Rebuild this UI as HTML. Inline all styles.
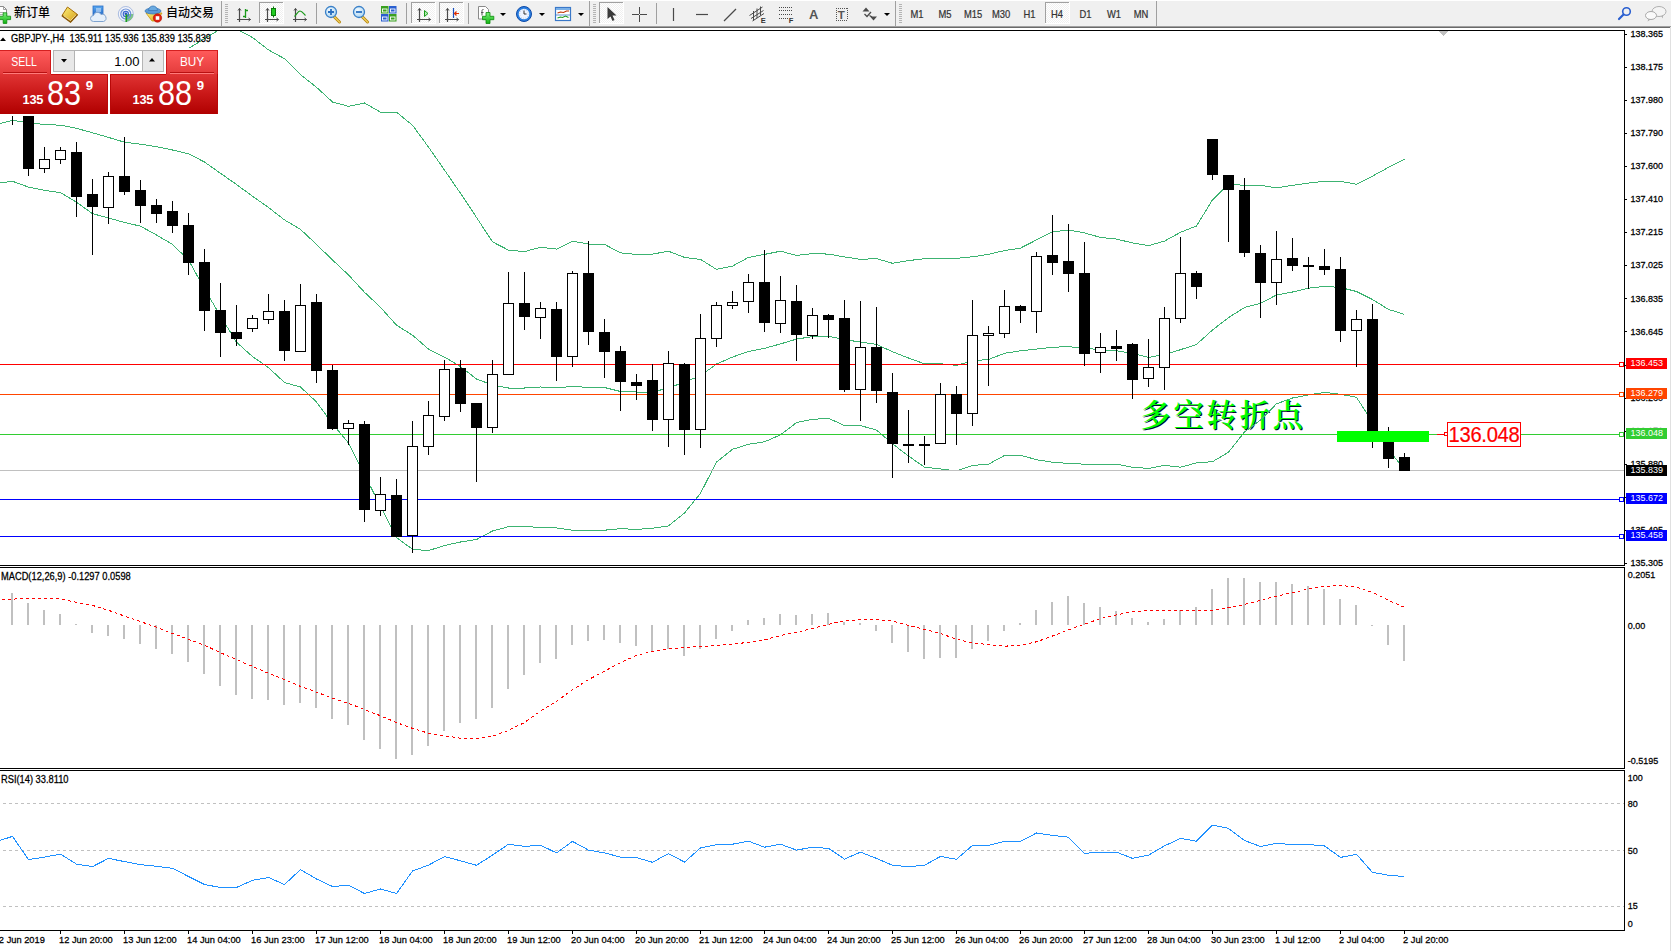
<!DOCTYPE html>
<html lang="zh"><head><meta charset="utf-8"><title>GBPJPY-,H4</title><style>
html,body{margin:0;padding:0;background:#fff;}
body{width:1671px;height:951px;overflow:hidden;position:relative;font-family:"Liberation Sans","Noto Sans CJK SC",sans-serif;color:#000;}
.t{position:absolute;white-space:nowrap;line-height:1;}
.ax{-webkit-text-stroke:0.25px #000;font-size:9px;left:1630.5px;transform-origin:0 50%;transform:scaleY(1.09);letter-spacing:0px}
.lb{position:absolute;left:1626px;width:41px;height:11px;color:#fff;font-size:9px;line-height:11px;}
.lb span{position:absolute;left:4.5px;top:0.2px;transform-origin:0 50%;transform:scaleY(1.09);}
.tm{font-size:9.3px;top:935.6px;transform-origin:0 50%;transform:scaleY(1.06);-webkit-text-stroke:0.25px #000;}
#tb{position:absolute;left:0;top:0;width:1671px;height:26px;background:#f0f0f0;border-top:1px solid #fff;box-sizing:border-box}
#tbl1{position:absolute;left:0;top:26px;width:1671px;height:1px;background:#a0a0a0;}
#tbl2{position:absolute;left:0;top:27px;width:1671px;height:1px;background:#696969;}
.tf{font-size:9.4px;color:#333;top:10.1px;transform-origin:50% 50%;transform:scaleY(1.08);-webkit-text-stroke:0.2px #333}
.cn{font-size:12px;top:7.2px;color:#000;font-weight:500}
</style></head><body>
<div id="tb"></div><div id="tbl1"></div><div id="tbl2"></div>
<svg width="1671" height="951" viewBox="0 0 1671 951" style="position:absolute;left:0;top:0" shape-rendering="crispEdges">
<defs><clipPath id="cm"><rect x="0" y="31" width="1624" height="534"/></clipPath><clipPath id="c2"><rect x="0" y="568" width="1624" height="200"/></clipPath><clipPath id="c3"><rect x="0" y="771" width="1624" height="159"/></clipPath></defs>
<g clip-path="url(#cm)">
<text x="1141.4" y="427.4" font-family="'Liberation Serif','Noto Serif CJK SC',serif" font-size="30.2" font-weight="600" letter-spacing="2.9" fill="#000830">多空转折点</text>
<text x="1140.4" y="426.4" font-family="'Liberation Serif','Noto Serif CJK SC',serif" font-size="30.2" font-weight="600" letter-spacing="2.9" fill="#00ff00">多空转折点</text>
<polyline points="-3.5,60.3 12.5,60.7 28.5,59.3 44.5,58.6 60.5,57.8 76.5,54.4 92.5,52.0 108.5,56.7 124.5,62.0 140.5,62.2 156.5,58.4 172.5,55.6 188.5,48.4 204.5,38.7 220.5,29.0 236.5,29.0 252.5,37.5 268.5,49.9 284.5,58.7 300.5,74.6 316.5,87.3 332.5,102.0 348.5,106.3 364.5,103.0 380.5,112.2 396.5,112.2 412.5,125.2 428.5,147.1 444.5,170.1 460.5,193.3 476.5,217.4 492.5,241.9 508.5,250.1 524.5,251.6 540.5,247.3 556.5,249.1 572.5,241.1 588.5,244.1 604.5,244.4 620.5,252.9 636.5,254.4 652.5,254.1 668.5,251.2 684.5,257.4 700.5,259.4 716.5,269.4 732.5,266.1 748.5,257.4 764.5,254.4 780.5,251.2 796.5,255.4 812.5,253.6 828.5,254.1 844.5,256.9 860.5,259.4 876.5,258.6 892.5,263.3 908.5,260.6 924.5,258.7 940.5,258.7 956.5,258.3 972.5,256.8 988.5,254.3 1004.5,250.6 1020.5,248.1 1036.5,239.9 1052.5,231.9 1068.5,229.9 1084.5,232.9 1100.5,237.4 1116.5,239.1 1132.5,242.9 1148.5,245.6 1164.5,241.1 1180.5,232.3 1196.5,226.0 1212.5,199.8 1228.5,184.3 1244.5,185.3 1260.5,185.3 1276.5,188.0 1292.5,185.3 1308.5,183.1 1324.5,181.3 1340.5,181.3 1356.5,184.3 1372.5,176.1 1388.5,167.4 1404.5,159.1" fill="none" stroke="#3cb371" stroke-width="1" />
<polyline points="-3.5,124.5 12.5,120.4 28.5,122.8 44.5,124.5 60.5,125.2 76.5,128.3 92.5,132.8 108.5,137.4 124.5,142.2 140.5,144.2 156.5,146.7 172.5,150.0 188.5,153.8 204.5,162.0 220.5,173.3 236.5,184.5 252.5,196.2 268.5,207.5 284.5,219.9 300.5,229.4 316.5,244.4 332.5,260.0 348.5,274.9 364.5,292.3 380.5,307.3 396.5,325.2 412.5,335.2 428.5,349.1 444.5,357.1 460.5,366.6 476.5,379.0 492.5,385.0 508.5,388.0 524.5,388.0 540.5,387.0 556.5,388.0 572.5,386.3 588.5,387.5 604.5,387.5 620.5,391.5 636.5,392.0 652.5,392.0 668.5,388.0 684.5,382.0 700.5,375.8 716.5,364.0 732.5,357.1 748.5,351.4 764.5,348.4 780.5,343.9 796.5,339.1 812.5,336.6 828.5,336.4 844.5,339.6 860.5,342.1 876.5,344.3 892.5,351.8 908.5,358.0 924.5,363.8 940.5,363.8 956.5,365.3 972.5,360.8 988.5,359.5 1004.5,353.3 1020.5,350.8 1036.5,349.1 1052.5,347.3 1068.5,346.6 1084.5,348.3 1100.5,349.6 1116.5,350.8 1132.5,353.3 1148.5,357.5 1164.5,354.5 1180.5,349.7 1196.5,344.4 1212.5,330.0 1228.5,317.6 1244.5,307.5 1260.5,303.3 1276.5,295.0 1292.5,292.0 1308.5,288.2 1324.5,286.3 1340.5,287.5 1356.5,291.5 1372.5,299.5 1388.5,309.4 1404.5,314.4" fill="none" stroke="#3cb371" stroke-width="1" />
<polyline points="-3.5,183.3 12.5,181.3 28.5,187.1 44.5,190.4 60.5,192.6 76.5,202.2 92.5,213.6 108.5,218.1 124.5,222.4 140.5,226.2 156.5,235.0 172.5,244.4 188.5,260.0 204.5,289.0 220.5,316.0 236.5,342.2 252.5,356.6 268.5,367.6 284.5,382.5 300.5,387.0 316.5,402.0 332.5,423.9 348.5,443.0 364.5,475.0 380.5,506.0 396.5,537.5 412.5,549.3 428.5,550.6 444.5,545.5 460.5,542.0 476.5,539.5 492.5,531.0 508.5,526.7 524.5,526.8 540.5,527.2 556.5,528.0 572.5,530.2 588.5,530.2 604.5,530.2 620.5,528.7 636.5,529.4 652.5,528.2 668.5,525.9 684.5,513.0 700.5,493.3 716.5,462.1 732.5,449.3 748.5,444.3 764.5,441.8 780.5,434.9 796.5,422.6 812.5,419.4 828.5,418.2 844.5,425.6 860.5,425.6 876.5,430.1 892.5,443.8 908.5,456.0 924.5,467.2 940.5,468.9 956.5,470.9 972.5,465.4 988.5,464.2 1004.5,455.5 1020.5,455.2 1036.5,459.7 1052.5,462.2 1068.5,463.4 1084.5,464.2 1100.5,464.2 1116.5,464.2 1132.5,467.2 1148.5,468.4 1164.5,465.4 1180.5,467.2 1196.5,462.9 1212.5,461.7 1228.5,452.2 1244.5,432.0 1260.5,420.0 1276.5,403.8 1292.5,398.0 1308.5,394.9 1324.5,392.4 1340.5,394.3 1356.5,397.3 1372.5,422.2 1388.5,450.2 1404.5,469.0" fill="none" stroke="#3cb371" stroke-width="1" />
<rect x="0" y="470" width="1624" height="1" fill="#c0c0c0" />
<rect x="0" y="364" width="1624" height="1" fill="#ff0000" />
<rect x="0" y="394" width="1624" height="1" fill="#ff4500" />
<rect x="0" y="434" width="1624" height="1" fill="#32cd32" />
<rect x="0" y="499" width="1624" height="1" fill="#0000ff" />
<rect x="0" y="536" width="1624" height="1" fill="#0000ff" />
<rect x="12" y="105" width="1" height="20" fill="#000"/>
<rect x="7" y="105" width="11" height="10" fill="#000"/>
<rect x="28" y="95" width="1" height="81" fill="#000"/>
<rect x="23" y="100" width="11" height="69" fill="#000"/>
<rect x="44" y="147" width="1" height="26" fill="#000"/>
<rect x="39" y="159" width="11" height="10" fill="#000"/>
<rect x="40" y="160" width="9" height="8" fill="#fff"/>
<rect x="60" y="147" width="1" height="17" fill="#000"/>
<rect x="55" y="150" width="11" height="10" fill="#000"/>
<rect x="56" y="151" width="9" height="8" fill="#fff"/>
<rect x="76" y="142" width="1" height="75" fill="#000"/>
<rect x="71" y="152" width="11" height="45" fill="#000"/>
<rect x="92" y="179" width="1" height="76" fill="#000"/>
<rect x="87" y="194" width="11" height="13" fill="#000"/>
<rect x="108" y="172" width="1" height="52" fill="#000"/>
<rect x="103" y="176" width="11" height="32" fill="#000"/>
<rect x="104" y="177" width="9" height="30" fill="#fff"/>
<rect x="124" y="137" width="1" height="58" fill="#000"/>
<rect x="119" y="176" width="11" height="16" fill="#000"/>
<rect x="140" y="180" width="1" height="43" fill="#000"/>
<rect x="135" y="190" width="11" height="16" fill="#000"/>
<rect x="156" y="199" width="1" height="24" fill="#000"/>
<rect x="151" y="205" width="11" height="9" fill="#000"/>
<rect x="172" y="201" width="1" height="32" fill="#000"/>
<rect x="167" y="211" width="11" height="15" fill="#000"/>
<rect x="188" y="213" width="1" height="62" fill="#000"/>
<rect x="183" y="225" width="11" height="38" fill="#000"/>
<rect x="204" y="249" width="1" height="82" fill="#000"/>
<rect x="199" y="262" width="11" height="49" fill="#000"/>
<rect x="220" y="283" width="1" height="74" fill="#000"/>
<rect x="215" y="310" width="11" height="23" fill="#000"/>
<rect x="236" y="305" width="1" height="41" fill="#000"/>
<rect x="231" y="332" width="11" height="7" fill="#000"/>
<rect x="252" y="315" width="1" height="17" fill="#000"/>
<rect x="247" y="318" width="11" height="11" fill="#000"/>
<rect x="248" y="319" width="9" height="9" fill="#fff"/>
<rect x="268" y="294" width="1" height="30" fill="#000"/>
<rect x="263" y="311" width="11" height="9" fill="#000"/>
<rect x="264" y="312" width="9" height="7" fill="#fff"/>
<rect x="284" y="300" width="1" height="61" fill="#000"/>
<rect x="279" y="311" width="11" height="40" fill="#000"/>
<rect x="300" y="284" width="1" height="68" fill="#000"/>
<rect x="295" y="305" width="11" height="47" fill="#000"/>
<rect x="296" y="306" width="9" height="45" fill="#fff"/>
<rect x="316" y="294" width="1" height="89" fill="#000"/>
<rect x="311" y="302" width="11" height="69" fill="#000"/>
<rect x="332" y="365" width="1" height="65" fill="#000"/>
<rect x="327" y="370" width="11" height="59" fill="#000"/>
<rect x="348" y="420" width="1" height="25" fill="#000"/>
<rect x="343" y="423" width="11" height="6" fill="#000"/>
<rect x="344" y="424" width="9" height="4" fill="#fff"/>
<rect x="364" y="421" width="1" height="101" fill="#000"/>
<rect x="359" y="424" width="11" height="86" fill="#000"/>
<rect x="380" y="477" width="1" height="39" fill="#000"/>
<rect x="375" y="494" width="11" height="17" fill="#000"/>
<rect x="376" y="495" width="9" height="15" fill="#fff"/>
<rect x="396" y="479" width="1" height="58" fill="#000"/>
<rect x="391" y="495" width="11" height="42" fill="#000"/>
<rect x="412" y="421" width="1" height="132" fill="#000"/>
<rect x="407" y="446" width="11" height="90" fill="#000"/>
<rect x="408" y="447" width="9" height="88" fill="#fff"/>
<rect x="428" y="401" width="1" height="54" fill="#000"/>
<rect x="423" y="415" width="11" height="32" fill="#000"/>
<rect x="424" y="416" width="9" height="30" fill="#fff"/>
<rect x="444" y="360" width="1" height="61" fill="#000"/>
<rect x="439" y="369" width="11" height="48" fill="#000"/>
<rect x="440" y="370" width="9" height="46" fill="#fff"/>
<rect x="460" y="360" width="1" height="52" fill="#000"/>
<rect x="455" y="368" width="11" height="36" fill="#000"/>
<rect x="476" y="403" width="1" height="79" fill="#000"/>
<rect x="471" y="403" width="11" height="25" fill="#000"/>
<rect x="492" y="360" width="1" height="73" fill="#000"/>
<rect x="487" y="374" width="11" height="54" fill="#000"/>
<rect x="488" y="375" width="9" height="52" fill="#fff"/>
<rect x="508" y="272" width="1" height="103" fill="#000"/>
<rect x="503" y="303" width="11" height="72" fill="#000"/>
<rect x="504" y="304" width="9" height="70" fill="#fff"/>
<rect x="524" y="272" width="1" height="58" fill="#000"/>
<rect x="519" y="303" width="11" height="14" fill="#000"/>
<rect x="540" y="302" width="1" height="37" fill="#000"/>
<rect x="535" y="308" width="11" height="10" fill="#000"/>
<rect x="536" y="309" width="9" height="8" fill="#fff"/>
<rect x="556" y="302" width="1" height="79" fill="#000"/>
<rect x="551" y="309" width="11" height="48" fill="#000"/>
<rect x="572" y="271" width="1" height="96" fill="#000"/>
<rect x="567" y="273" width="11" height="84" fill="#000"/>
<rect x="568" y="274" width="9" height="82" fill="#fff"/>
<rect x="588" y="241" width="1" height="104" fill="#000"/>
<rect x="583" y="273" width="11" height="59" fill="#000"/>
<rect x="604" y="319" width="1" height="59" fill="#000"/>
<rect x="599" y="332" width="11" height="20" fill="#000"/>
<rect x="620" y="346" width="1" height="65" fill="#000"/>
<rect x="615" y="351" width="11" height="31" fill="#000"/>
<rect x="636" y="374" width="1" height="26" fill="#000"/>
<rect x="631" y="382" width="11" height="4" fill="#000"/>
<rect x="652" y="364" width="1" height="67" fill="#000"/>
<rect x="647" y="380" width="11" height="40" fill="#000"/>
<rect x="668" y="351" width="1" height="96" fill="#000"/>
<rect x="663" y="363" width="11" height="57" fill="#000"/>
<rect x="664" y="364" width="9" height="55" fill="#fff"/>
<rect x="684" y="363" width="1" height="92" fill="#000"/>
<rect x="679" y="364" width="11" height="66" fill="#000"/>
<rect x="700" y="314" width="1" height="134" fill="#000"/>
<rect x="695" y="338" width="11" height="92" fill="#000"/>
<rect x="696" y="339" width="9" height="90" fill="#fff"/>
<rect x="716" y="302" width="1" height="45" fill="#000"/>
<rect x="711" y="305" width="11" height="34" fill="#000"/>
<rect x="712" y="306" width="9" height="32" fill="#fff"/>
<rect x="732" y="291" width="1" height="18" fill="#000"/>
<rect x="727" y="302" width="11" height="4" fill="#000"/>
<rect x="728" y="303" width="9" height="2" fill="#fff"/>
<rect x="748" y="274" width="1" height="39" fill="#000"/>
<rect x="743" y="282" width="11" height="20" fill="#000"/>
<rect x="744" y="283" width="9" height="18" fill="#fff"/>
<rect x="764" y="250" width="1" height="82" fill="#000"/>
<rect x="759" y="282" width="11" height="41" fill="#000"/>
<rect x="780" y="276" width="1" height="57" fill="#000"/>
<rect x="775" y="300" width="11" height="24" fill="#000"/>
<rect x="776" y="301" width="9" height="22" fill="#fff"/>
<rect x="796" y="285" width="1" height="76" fill="#000"/>
<rect x="791" y="301" width="11" height="34" fill="#000"/>
<rect x="812" y="308" width="1" height="31" fill="#000"/>
<rect x="807" y="315" width="11" height="21" fill="#000"/>
<rect x="808" y="316" width="9" height="19" fill="#fff"/>
<rect x="828" y="314" width="1" height="24" fill="#000"/>
<rect x="823" y="315" width="11" height="5" fill="#000"/>
<rect x="844" y="300" width="1" height="92" fill="#000"/>
<rect x="839" y="318" width="11" height="72" fill="#000"/>
<rect x="860" y="301" width="1" height="120" fill="#000"/>
<rect x="855" y="347" width="11" height="43" fill="#000"/>
<rect x="856" y="348" width="9" height="41" fill="#fff"/>
<rect x="876" y="307" width="1" height="96" fill="#000"/>
<rect x="871" y="347" width="11" height="44" fill="#000"/>
<rect x="892" y="373" width="1" height="105" fill="#000"/>
<rect x="887" y="392" width="11" height="52" fill="#000"/>
<rect x="908" y="410" width="1" height="53" fill="#000"/>
<rect x="903" y="444" width="11" height="2" fill="#000"/>
<rect x="924" y="436" width="1" height="29" fill="#000"/>
<rect x="919" y="444" width="11" height="2" fill="#000"/>
<rect x="940" y="383" width="1" height="61" fill="#000"/>
<rect x="935" y="394" width="11" height="50" fill="#000"/>
<rect x="936" y="395" width="9" height="48" fill="#fff"/>
<rect x="956" y="386" width="1" height="59" fill="#000"/>
<rect x="951" y="394" width="11" height="20" fill="#000"/>
<rect x="972" y="300" width="1" height="126" fill="#000"/>
<rect x="967" y="335" width="11" height="79" fill="#000"/>
<rect x="968" y="336" width="9" height="77" fill="#fff"/>
<rect x="988" y="326" width="1" height="60" fill="#000"/>
<rect x="983" y="333" width="11" height="3" fill="#000"/>
<rect x="984" y="334" width="9" height="1" fill="#fff"/>
<rect x="1004" y="290" width="1" height="48" fill="#000"/>
<rect x="999" y="306" width="11" height="28" fill="#000"/>
<rect x="1000" y="307" width="9" height="26" fill="#fff"/>
<rect x="1020" y="305" width="1" height="18" fill="#000"/>
<rect x="1015" y="306" width="11" height="5" fill="#000"/>
<rect x="1036" y="252" width="1" height="81" fill="#000"/>
<rect x="1031" y="256" width="11" height="56" fill="#000"/>
<rect x="1032" y="257" width="9" height="54" fill="#fff"/>
<rect x="1052" y="215" width="1" height="60" fill="#000"/>
<rect x="1047" y="255" width="11" height="8" fill="#000"/>
<rect x="1068" y="224" width="1" height="68" fill="#000"/>
<rect x="1063" y="261" width="11" height="13" fill="#000"/>
<rect x="1084" y="242" width="1" height="124" fill="#000"/>
<rect x="1079" y="273" width="11" height="81" fill="#000"/>
<rect x="1100" y="333" width="1" height="40" fill="#000"/>
<rect x="1095" y="347" width="11" height="6" fill="#000"/>
<rect x="1096" y="348" width="9" height="4" fill="#fff"/>
<rect x="1116" y="330" width="1" height="31" fill="#000"/>
<rect x="1111" y="346" width="11" height="3" fill="#000"/>
<rect x="1132" y="343" width="1" height="56" fill="#000"/>
<rect x="1127" y="344" width="11" height="36" fill="#000"/>
<rect x="1148" y="339" width="1" height="48" fill="#000"/>
<rect x="1143" y="367" width="11" height="12" fill="#000"/>
<rect x="1144" y="368" width="9" height="10" fill="#fff"/>
<rect x="1164" y="307" width="1" height="83" fill="#000"/>
<rect x="1159" y="318" width="11" height="50" fill="#000"/>
<rect x="1160" y="319" width="9" height="48" fill="#fff"/>
<rect x="1180" y="237" width="1" height="86" fill="#000"/>
<rect x="1175" y="273" width="11" height="46" fill="#000"/>
<rect x="1176" y="274" width="9" height="44" fill="#fff"/>
<rect x="1196" y="271" width="1" height="28" fill="#000"/>
<rect x="1191" y="273" width="11" height="14" fill="#000"/>
<rect x="1212" y="139" width="1" height="41" fill="#000"/>
<rect x="1207" y="139" width="11" height="36" fill="#000"/>
<rect x="1228" y="175" width="1" height="67" fill="#000"/>
<rect x="1223" y="175" width="11" height="15" fill="#000"/>
<rect x="1244" y="178" width="1" height="79" fill="#000"/>
<rect x="1239" y="190" width="11" height="63" fill="#000"/>
<rect x="1260" y="245" width="1" height="73" fill="#000"/>
<rect x="1255" y="253" width="11" height="30" fill="#000"/>
<rect x="1276" y="231" width="1" height="74" fill="#000"/>
<rect x="1271" y="259" width="11" height="24" fill="#000"/>
<rect x="1272" y="260" width="9" height="22" fill="#fff"/>
<rect x="1292" y="238" width="1" height="33" fill="#000"/>
<rect x="1287" y="258" width="11" height="8" fill="#000"/>
<rect x="1308" y="257" width="1" height="32" fill="#000"/>
<rect x="1303" y="265" width="11" height="2" fill="#000"/>
<rect x="1324" y="249" width="1" height="26" fill="#000"/>
<rect x="1319" y="266" width="11" height="4" fill="#000"/>
<rect x="1340" y="257" width="1" height="85" fill="#000"/>
<rect x="1335" y="269" width="11" height="62" fill="#000"/>
<rect x="1356" y="310" width="1" height="57" fill="#000"/>
<rect x="1351" y="319" width="11" height="12" fill="#000"/>
<rect x="1352" y="320" width="9" height="10" fill="#fff"/>
<rect x="1372" y="304" width="1" height="144" fill="#000"/>
<rect x="1367" y="319" width="11" height="117" fill="#000"/>
<rect x="1388" y="427" width="1" height="41" fill="#000"/>
<rect x="1383" y="436" width="11" height="23" fill="#000"/>
<rect x="1404" y="453" width="1" height="18" fill="#000"/>
<rect x="1399" y="457" width="11" height="14" fill="#000"/>
<rect x="1337" y="431" width="92" height="11" fill="#00ff00"/>
<rect x="1437" y="434" width="9" height="1" fill="#ff0000"/>
<rect x="1444.5" y="432.5" width="3" height="3" fill="#fff" stroke="#ff0000" stroke-width="1"/>
<rect x="1619" y="362" width="5" height="5" fill="#ff0000"/><rect x="1620" y="363" width="3" height="3" fill="#fff"/>
<rect x="1619" y="392" width="5" height="5" fill="#ff4500"/><rect x="1620" y="393" width="3" height="3" fill="#fff"/>
<rect x="1619" y="432" width="5" height="5" fill="#32cd32"/><rect x="1620" y="433" width="3" height="3" fill="#fff"/>
<rect x="1619" y="497" width="5" height="5" fill="#0000ff"/><rect x="1620" y="498" width="3" height="3" fill="#fff"/>
<rect x="1619" y="534" width="5" height="5" fill="#0000ff"/><rect x="1620" y="535" width="3" height="3" fill="#fff"/>
<rect x="1439" y="31" width="9" height="1" fill="#c0c0c0"/>
<rect x="1440" y="32" width="7" height="1" fill="#c0c0c0"/>
<rect x="1441" y="33" width="5" height="1" fill="#c0c0c0"/>
<rect x="1442" y="34" width="3" height="1" fill="#c0c0c0"/>
<rect x="1443" y="35" width="1" height="1" fill="#c0c0c0"/>
</g>
<g clip-path="url(#c2)">
<rect x="11" y="593" width="2" height="32" fill="#c0c0c0"/>
<rect x="27" y="603" width="2" height="22" fill="#c0c0c0"/>
<rect x="43" y="610" width="2" height="15" fill="#c0c0c0"/>
<rect x="59" y="614" width="2" height="11" fill="#c0c0c0"/>
<rect x="75" y="624" width="2" height="1" fill="#c0c0c0"/>
<rect x="91" y="625" width="2" height="8" fill="#c0c0c0"/>
<rect x="107" y="625" width="2" height="11" fill="#c0c0c0"/>
<rect x="123" y="625" width="2" height="14" fill="#c0c0c0"/>
<rect x="139" y="625" width="2" height="19" fill="#c0c0c0"/>
<rect x="155" y="625" width="2" height="24" fill="#c0c0c0"/>
<rect x="171" y="625" width="2" height="29" fill="#c0c0c0"/>
<rect x="187" y="625" width="2" height="37" fill="#c0c0c0"/>
<rect x="203" y="625" width="2" height="49" fill="#c0c0c0"/>
<rect x="219" y="625" width="2" height="61" fill="#c0c0c0"/>
<rect x="235" y="625" width="2" height="70" fill="#c0c0c0"/>
<rect x="251" y="625" width="2" height="74" fill="#c0c0c0"/>
<rect x="267" y="625" width="2" height="75" fill="#c0c0c0"/>
<rect x="283" y="625" width="2" height="80" fill="#c0c0c0"/>
<rect x="299" y="625" width="2" height="78" fill="#c0c0c0"/>
<rect x="315" y="625" width="2" height="83" fill="#c0c0c0"/>
<rect x="331" y="625" width="2" height="94" fill="#c0c0c0"/>
<rect x="347" y="625" width="2" height="100" fill="#c0c0c0"/>
<rect x="363" y="625" width="2" height="115" fill="#c0c0c0"/>
<rect x="379" y="625" width="2" height="124" fill="#c0c0c0"/>
<rect x="395" y="625" width="2" height="134" fill="#c0c0c0"/>
<rect x="411" y="625" width="2" height="130" fill="#c0c0c0"/>
<rect x="427" y="625" width="2" height="121" fill="#c0c0c0"/>
<rect x="443" y="625" width="2" height="106" fill="#c0c0c0"/>
<rect x="459" y="625" width="2" height="98" fill="#c0c0c0"/>
<rect x="475" y="625" width="2" height="94" fill="#c0c0c0"/>
<rect x="491" y="625" width="2" height="83" fill="#c0c0c0"/>
<rect x="507" y="625" width="2" height="64" fill="#c0c0c0"/>
<rect x="523" y="625" width="2" height="50" fill="#c0c0c0"/>
<rect x="539" y="625" width="2" height="38" fill="#c0c0c0"/>
<rect x="555" y="625" width="2" height="34" fill="#c0c0c0"/>
<rect x="571" y="625" width="2" height="20" fill="#c0c0c0"/>
<rect x="587" y="625" width="2" height="16" fill="#c0c0c0"/>
<rect x="603" y="625" width="2" height="15" fill="#c0c0c0"/>
<rect x="619" y="625" width="2" height="18" fill="#c0c0c0"/>
<rect x="635" y="625" width="2" height="21" fill="#c0c0c0"/>
<rect x="651" y="625" width="2" height="26" fill="#c0c0c0"/>
<rect x="667" y="625" width="2" height="24" fill="#c0c0c0"/>
<rect x="683" y="625" width="2" height="31" fill="#c0c0c0"/>
<rect x="699" y="625" width="2" height="24" fill="#c0c0c0"/>
<rect x="715" y="625" width="2" height="14" fill="#c0c0c0"/>
<rect x="731" y="625" width="2" height="6" fill="#c0c0c0"/>
<rect x="747" y="620" width="2" height="5" fill="#c0c0c0"/>
<rect x="763" y="618" width="2" height="7" fill="#c0c0c0"/>
<rect x="779" y="614" width="2" height="11" fill="#c0c0c0"/>
<rect x="795" y="615" width="2" height="10" fill="#c0c0c0"/>
<rect x="811" y="614" width="2" height="11" fill="#c0c0c0"/>
<rect x="827" y="613" width="2" height="12" fill="#c0c0c0"/>
<rect x="843" y="622" width="2" height="3" fill="#c0c0c0"/>
<rect x="859" y="623" width="2" height="2" fill="#c0c0c0"/>
<rect x="875" y="625" width="2" height="6" fill="#c0c0c0"/>
<rect x="891" y="625" width="2" height="18" fill="#c0c0c0"/>
<rect x="907" y="625" width="2" height="27" fill="#c0c0c0"/>
<rect x="923" y="625" width="2" height="34" fill="#c0c0c0"/>
<rect x="939" y="625" width="2" height="33" fill="#c0c0c0"/>
<rect x="955" y="625" width="2" height="33" fill="#c0c0c0"/>
<rect x="971" y="625" width="2" height="24" fill="#c0c0c0"/>
<rect x="987" y="625" width="2" height="16" fill="#c0c0c0"/>
<rect x="1003" y="625" width="2" height="6" fill="#c0c0c0"/>
<rect x="1019" y="623" width="2" height="2" fill="#c0c0c0"/>
<rect x="1035" y="610" width="2" height="15" fill="#c0c0c0"/>
<rect x="1051" y="602" width="2" height="23" fill="#c0c0c0"/>
<rect x="1067" y="596" width="2" height="29" fill="#c0c0c0"/>
<rect x="1083" y="603" width="2" height="22" fill="#c0c0c0"/>
<rect x="1099" y="607" width="2" height="18" fill="#c0c0c0"/>
<rect x="1115" y="611" width="2" height="14" fill="#c0c0c0"/>
<rect x="1131" y="618" width="2" height="7" fill="#c0c0c0"/>
<rect x="1147" y="622" width="2" height="3" fill="#c0c0c0"/>
<rect x="1163" y="619" width="2" height="6" fill="#c0c0c0"/>
<rect x="1179" y="610" width="2" height="15" fill="#c0c0c0"/>
<rect x="1195" y="607" width="2" height="18" fill="#c0c0c0"/>
<rect x="1211" y="589" width="2" height="36" fill="#c0c0c0"/>
<rect x="1227" y="578" width="2" height="47" fill="#c0c0c0"/>
<rect x="1243" y="578" width="2" height="47" fill="#c0c0c0"/>
<rect x="1259" y="582" width="2" height="43" fill="#c0c0c0"/>
<rect x="1275" y="582" width="2" height="43" fill="#c0c0c0"/>
<rect x="1291" y="584" width="2" height="41" fill="#c0c0c0"/>
<rect x="1307" y="586" width="2" height="39" fill="#c0c0c0"/>
<rect x="1323" y="589" width="2" height="36" fill="#c0c0c0"/>
<rect x="1339" y="599" width="2" height="26" fill="#c0c0c0"/>
<rect x="1355" y="605" width="2" height="20" fill="#c0c0c0"/>
<rect x="1371" y="625" width="2" height="1" fill="#c0c0c0"/>
<rect x="1387" y="625" width="2" height="20" fill="#c0c0c0"/>
<rect x="1403" y="625" width="2" height="36" fill="#c0c0c0"/>
<polyline points="-3.5,600.2 12.5,599.1 28.5,598.6 44.5,598.4 60.5,598.9 76.5,602.4 92.5,605.4 108.5,610.3 124.5,616.1 140.5,621.6 156.5,627.3 172.5,633.5 188.5,639.3 204.5,645.2 220.5,652.7 236.5,659.7 252.5,666.4 268.5,673.4 284.5,679.6 300.5,686.4 316.5,692.1 332.5,698.3 348.5,703.3 364.5,709.5 380.5,715.8 396.5,722.5 412.5,728.4 428.5,733.2 444.5,735.7 460.5,738.2 476.5,738.5 492.5,736.4 508.5,730.3 524.5,722.5 540.5,711.0 556.5,701.3 572.5,689.8 588.5,679.6 604.5,671.1 620.5,662.6 636.5,655.4 652.5,651.4 668.5,649.0 684.5,647.5 700.5,646.5 716.5,645.5 732.5,644.2 748.5,642.3 764.5,639.8 780.5,635.5 796.5,632.3 812.5,628.5 828.5,624.3 844.5,620.6 860.5,619.8 876.5,619.6 892.5,621.1 908.5,625.3 924.5,629.3 940.5,633.5 956.5,639.3 972.5,642.8 988.5,644.7 1004.5,646.2 1020.5,645.2 1036.5,641.8 1052.5,636.0 1068.5,629.8 1084.5,624.1 1100.5,618.6 1116.5,614.8 1132.5,611.8 1148.5,610.6 1164.5,610.6 1180.5,610.6 1196.5,610.6 1212.5,610.4 1228.5,607.4 1244.5,604.5 1260.5,600.3 1276.5,596.1 1292.5,592.7 1308.5,589.0 1324.5,586.5 1340.5,585.4 1356.5,587.3 1372.5,592.4 1388.5,600.3 1404.5,607.4" fill="none" stroke="#ff0000" stroke-width="1" stroke-dasharray="3,3" />
</g>
<g clip-path="url(#c3)">
<line x1="3" y1="803.5" x2="1624" y2="803.5" stroke="#c0c0c0" stroke-width="1" stroke-dasharray="3,3"/>
<line x1="3" y1="850.5" x2="1624" y2="850.5" stroke="#c0c0c0" stroke-width="1" stroke-dasharray="3,3"/>
<line x1="3" y1="906.5" x2="1624" y2="906.5" stroke="#c0c0c0" stroke-width="1" stroke-dasharray="3,3"/>
<polyline points="-3.5,841.5 12.5,836.4 28.5,859.6 44.5,857.1 60.5,854.1 76.5,864.1 92.5,866.6 108.5,858.4 124.5,861.6 140.5,864.6 156.5,866.3 172.5,868.3 188.5,876.5 204.5,884.5 220.5,887.5 236.5,887.5 252.5,880.3 268.5,877.5 284.5,884.5 300.5,869.6 316.5,879.0 332.5,886.5 348.5,885.2 364.5,893.5 380.5,889.0 396.5,893.5 412.5,871.0 428.5,865.1 444.5,856.6 460.5,860.8 476.5,865.3 492.5,855.1 508.5,844.2 524.5,846.4 540.5,845.2 556.5,852.9 572.5,841.4 588.5,850.1 604.5,852.9 620.5,857.1 636.5,857.6 652.5,862.3 668.5,853.6 684.5,862.1 700.5,847.9 716.5,844.7 732.5,844.2 748.5,841.2 764.5,847.2 780.5,844.2 796.5,850.1 812.5,847.2 828.5,848.4 844.5,859.1 860.5,852.1 876.5,858.4 892.5,865.3 908.5,866.6 924.5,865.3 940.5,856.4 956.5,859.3 972.5,845.4 988.5,845.4 1004.5,841.4 1020.5,841.4 1036.5,833.0 1052.5,835.4 1068.5,837.2 1084.5,853.4 1100.5,852.1 1116.5,852.1 1132.5,858.4 1148.5,855.1 1164.5,845.9 1180.5,838.4 1196.5,841.2 1212.5,825.1 1228.5,828.4 1244.5,840.5 1260.5,846.5 1276.5,843.4 1292.5,844.5 1308.5,844.5 1324.5,845.9 1340.5,857.4 1356.5,854.3 1372.5,872.4 1388.5,875.2 1404.5,876.6" fill="none" stroke="#1e90ff" stroke-width="1" />
</g>
<rect x="0" y="30" width="1625" height="1" fill="#000" />
<rect x="0" y="565" width="1625" height="1" fill="#000" />
<rect x="0" y="567" width="1625" height="1" fill="#000" />
<rect x="0" y="768" width="1625" height="1" fill="#000" />
<rect x="0" y="770" width="1625" height="1" fill="#000" />
<rect x="0" y="930" width="1625" height="1" fill="#000" />
<rect x="1624" y="30" width="1" height="536" fill="#000"/>
<rect x="1624" y="567" width="1" height="202" fill="#000"/>
<rect x="1624" y="770" width="1" height="161" fill="#000"/>
<rect x="1670" y="27" width="1" height="924" fill="#e0e0e0"/>
<rect x="1625" y="34" width="2" height="1" fill="#000"/>
<rect x="1625" y="67" width="2" height="1" fill="#000"/>
<rect x="1625" y="100" width="2" height="1" fill="#000"/>
<rect x="1625" y="133" width="2" height="1" fill="#000"/>
<rect x="1625" y="166" width="2" height="1" fill="#000"/>
<rect x="1625" y="199" width="2" height="1" fill="#000"/>
<rect x="1625" y="232" width="2" height="1" fill="#000"/>
<rect x="1625" y="265" width="2" height="1" fill="#000"/>
<rect x="1625" y="298" width="2" height="1" fill="#000"/>
<rect x="1625" y="331" width="2" height="1" fill="#000"/>
<rect x="1625" y="365" width="2" height="1" fill="#000"/>
<rect x="1625" y="398" width="2" height="1" fill="#000"/>
<rect x="1625" y="431" width="2" height="1" fill="#000"/>
<rect x="1625" y="464" width="2" height="1" fill="#000"/>
<rect x="1625" y="497" width="2" height="1" fill="#000"/>
<rect x="1625" y="530" width="2" height="1" fill="#000"/>
<rect x="1625" y="563" width="2" height="1" fill="#000"/>
<rect x="60" y="930" width="1" height="4" fill="#000"/>
<rect x="124" y="930" width="1" height="4" fill="#000"/>
<rect x="188" y="930" width="1" height="4" fill="#000"/>
<rect x="252" y="930" width="1" height="4" fill="#000"/>
<rect x="316" y="930" width="1" height="4" fill="#000"/>
<rect x="380" y="930" width="1" height="4" fill="#000"/>
<rect x="444" y="930" width="1" height="4" fill="#000"/>
<rect x="508" y="930" width="1" height="4" fill="#000"/>
<rect x="572" y="930" width="1" height="4" fill="#000"/>
<rect x="636" y="930" width="1" height="4" fill="#000"/>
<rect x="700" y="930" width="1" height="4" fill="#000"/>
<rect x="764" y="930" width="1" height="4" fill="#000"/>
<rect x="828" y="930" width="1" height="4" fill="#000"/>
<rect x="892" y="930" width="1" height="4" fill="#000"/>
<rect x="956" y="930" width="1" height="4" fill="#000"/>
<rect x="1020" y="930" width="1" height="4" fill="#000"/>
<rect x="1084" y="930" width="1" height="4" fill="#000"/>
<rect x="1148" y="930" width="1" height="4" fill="#000"/>
<rect x="1212" y="930" width="1" height="4" fill="#000"/>
<rect x="1276" y="930" width="1" height="4" fill="#000"/>
<rect x="1340" y="930" width="1" height="4" fill="#000"/>
<rect x="1404" y="930" width="1" height="4" fill="#000"/>
</svg>
<svg width="1671" height="28" viewBox="0 0 1671 28" style="position:absolute;left:0;top:0">
<defs><linearGradient id="gold" x1="0" y1="0" x2="1" y2="1"><stop offset="0" stop-color="#fff27a"/><stop offset="1" stop-color="#d39a14"/></linearGradient><linearGradient id="blu" x1="0" y1="0" x2="0" y2="1"><stop offset="0" stop-color="#5aa9f0"/><stop offset="1" stop-color="#1c5fc0"/></linearGradient><linearGradient id="grn" x1="0" y1="0" x2="0" y2="1"><stop offset="0" stop-color="#7af07a"/><stop offset="1" stop-color="#12b412"/></linearGradient><radialGradient id="lens" cx="0.4" cy="0.35" r="0.7"><stop offset="0" stop-color="#f4fbff"/><stop offset="1" stop-color="#a9d4f2"/></radialGradient><pattern id="chk" width="2" height="2" patternUnits="userSpaceOnUse"><rect width="2" height="2" fill="#fff"/><rect width="1" height="1" fill="#f0f0f0"/><rect x="1" y="1" width="1" height="1" fill="#f0f0f0"/></pattern></defs>
<path d="M-1 6.5h4.5l3 3v8.5h-7.5z" fill="#fff" stroke="#8a8a8a" stroke-width="1"/>
<path d="M3.5 6.5v3h3" fill="none" stroke="#8a8a8a" stroke-width="0.8"/>
<path d="M0 12.5h4M0 14.5h3" stroke="#b0b0b0" stroke-width="1"/>
<path d="M3.2 12.8h3.6v3.400h3.8v3.400h-3.8v3.8h-3.6v-3.8h-4v-3.400h4z" fill="url(#grn)" stroke="#0a8a0a" stroke-width="0.8"/>
<path d="M67.5 7L77.5 14.5 70.5 22 62 15.5z" fill="url(#gold)" stroke="#a8700c" stroke-width="1"/>
<path d="M62 15.5L70.5 22 77.5 14.5" fill="none" stroke="#8a5808" stroke-width="1.6"/>
<path d="M63.5 15.7L70.5 20.6 76 14.8" fill="none" stroke="#fff0c0" stroke-width="0.7"/>
<rect x="93" y="6" width="10" height="11" fill="url(#blu)" stroke="#2a6fc8" stroke-width="0.8"/>
<path d="M96 9h5M96 11h5" stroke="#e6f2ff" stroke-width="1"/>
<path d="M93.5 21.5a3 3 0 0 1 0-6 4 4 0 0 1 7.5-1 3.2 3.2 0 0 1 2.5 7z" fill="#e6f0fa" stroke="#7fa3cf" stroke-width="1"/>
<circle cx="125.8" cy="14" r="7.5" fill="#f4f6fb" stroke="#a9bbe0" stroke-width="1"/>
<path d="M125.8 14v7.5a7.5 7.5 0 0 0 7.5-7.5z" fill="#5cb85c" opacity="0.75"/>
<circle cx="125.8" cy="14" r="5" fill="none" stroke="#6a8fd8" stroke-width="1.2"/>
<circle cx="125.8" cy="14" r="2.6" fill="none" stroke="#3a6ad0" stroke-width="1.2"/>
<circle cx="125.8" cy="13.8" r="1.3" fill="#2a50c0"/>
<path d="M126.3 14.5v7.5" fill="none" stroke="#1ea01e" stroke-width="1.6"/>
<path d="M146 13l6 8h5l5-8z" fill="url(#gold)" stroke="#c8960c" stroke-width="0.8"/>
<ellipse cx="153" cy="11" rx="8" ry="3" fill="#5b9bd8" stroke="#3a78b8" stroke-width="0.8"/>
<path d="M148.5 10.5a4.5 4.5 0 0 1 9 0z" fill="#6aaae0" stroke="#3a78b8" stroke-width="0.8"/>
<circle cx="157.5" cy="18" r="4.2" fill="#e02010" stroke="#b01000" stroke-width="0.6"/>
<rect x="155.7" y="16.2" width="3.6" height="3.6" fill="#fff"/>
<rect x="221" y="1" width="1" height="25" fill="#a0a0a0"/>
<rect x="225" y="4" width="3" height="1" fill="#b4b4b4"/>
<rect x="225" y="6" width="3" height="1" fill="#b4b4b4"/>
<rect x="225" y="8" width="3" height="1" fill="#b4b4b4"/>
<rect x="225" y="10" width="3" height="1" fill="#b4b4b4"/>
<rect x="225" y="12" width="3" height="1" fill="#b4b4b4"/>
<rect x="225" y="14" width="3" height="1" fill="#b4b4b4"/>
<rect x="225" y="16" width="3" height="1" fill="#b4b4b4"/>
<rect x="225" y="18" width="3" height="1" fill="#b4b4b4"/>
<rect x="225" y="20" width="3" height="1" fill="#b4b4b4"/>
<rect x="225" y="22" width="3" height="1" fill="#b4b4b4"/>
<g fill="none" stroke="#4a4a4a" stroke-width="1.2"><path d="M239.5 8.5V22 M237.0 19.5H250.5"/><path d="M238.0 10.5l1.5-2 1.5 2 M248.5 18l2 1.5-2 1.5" stroke-width="1"/></g>
<path d="M245.5 9v9 M245.5 10.5h2.5 M243 16.5h2.5" fill="none" stroke="#1a9a1a" stroke-width="1.3"/>
<rect x="259" y="2" width="25" height="22" fill="url(#chk)"/>
<rect x="259" y="2" width="25" height="1" fill="#a0a0a0"/>
<rect x="259" y="2" width="1" height="22" fill="#a0a0a0"/>
<rect x="259" y="23" width="25" height="1" fill="#fff"/>
<rect x="283" y="2" width="1" height="22" fill="#fff"/>
<g fill="none" stroke="#4a4a4a" stroke-width="1.2"><path d="M267.5 8.5V22 M265.0 19.5H278.5"/><path d="M266.0 10.5l1.5-2 1.5 2 M276.5 18l2 1.5-2 1.5" stroke-width="1"/></g>
<path d="M273.5 6.5v11" stroke="#0a7a0a" stroke-width="1"/>
<rect x="271.5" y="8.5" width="4" height="7" fill="#22cc22" stroke="#0a7a0a" stroke-width="1"/>
<g fill="none" stroke="#4a4a4a" stroke-width="1.2"><path d="M295.5 8.5V22 M293.0 19.5H306.5"/><path d="M294.0 10.5l1.5-2 1.5 2 M304.5 18l2 1.5-2 1.5" stroke-width="1"/></g>
<path d="M294.5 16.5c2-2 3.5-5.5 5.5-5.5s3.5 2.5 5.5 4.5" fill="none" stroke="#1a9a1a" stroke-width="1.2"/>
<rect x="316" y="3" width="1" height="21" fill="#a0a0a0"/>
<path d="M334.0 16.5l5.5 5.5" stroke="#b8860b" stroke-width="3" stroke-linecap="round"/>
<path d="M334.5 17l5 5" stroke="#f0d060" stroke-width="1.2" stroke-linecap="round"/>
<circle cx="331.0" cy="12" r="5.5" fill="url(#lens)" stroke="#3a80c8" stroke-width="1.3"/>
<path d="M328.0 12h6M331.0 9v6" stroke="#2a6fc0" stroke-width="1.8"/>
<path d="M362.0 16.5l5.5 5.5" stroke="#b8860b" stroke-width="3" stroke-linecap="round"/>
<path d="M362.5 17l5 5" stroke="#f0d060" stroke-width="1.2" stroke-linecap="round"/>
<circle cx="359.0" cy="12" r="5.5" fill="url(#lens)" stroke="#3a80c8" stroke-width="1.3"/>
<path d="M356.0 12h6" stroke="#2a6fc0" stroke-width="1.8"/>
<rect x="381" y="6" width="7.5" height="7.5" fill="#3aa020"/>
<rect x="382.5" y="9.0" width="4.5" height="3" fill="none" stroke="#fff" stroke-width="0.9"/>
<rect x="389" y="6" width="7.5" height="7.5" fill="#2a5fd0"/>
<rect x="390.5" y="9.0" width="4.5" height="3" fill="none" stroke="#fff" stroke-width="0.9"/>
<rect x="381" y="14" width="7.5" height="7.5" fill="#2a5fd0"/>
<rect x="382.5" y="17.0" width="4.5" height="3" fill="none" stroke="#fff" stroke-width="0.9"/>
<rect x="389" y="14" width="7.5" height="7.5" fill="#3aa020"/>
<rect x="390.5" y="17.0" width="4.5" height="3" fill="none" stroke="#fff" stroke-width="0.9"/>
<rect x="406" y="3" width="1" height="21" fill="#a0a0a0"/>
<rect x="411" y="2" width="25" height="22" fill="url(#chk)"/>
<rect x="411" y="2" width="25" height="1" fill="#a0a0a0"/>
<rect x="411" y="2" width="1" height="22" fill="#a0a0a0"/>
<rect x="411" y="23" width="25" height="1" fill="#fff"/>
<rect x="435" y="2" width="1" height="22" fill="#fff"/>
<g fill="none" stroke="#4a4a4a" stroke-width="1.2"><path d="M419.5 8.5V22 M417.0 19.5H430.5"/><path d="M418.0 10.5l1.5-2 1.5 2 M428.5 18l2 1.5-2 1.5" stroke-width="1"/></g>
<path d="M424.5 10.5v6l3.5-3z" fill="#aef0ae" stroke="#1a9a1a" stroke-width="1"/>
<rect x="439" y="2" width="25" height="22" fill="url(#chk)"/>
<rect x="439" y="2" width="25" height="1" fill="#a0a0a0"/>
<rect x="439" y="2" width="1" height="22" fill="#a0a0a0"/>
<rect x="439" y="23" width="25" height="1" fill="#fff"/>
<rect x="463" y="2" width="1" height="22" fill="#fff"/>
<g fill="none" stroke="#4a4a4a" stroke-width="1.2"><path d="M447.5 8.5V22 M445.0 19.5H458.5"/><path d="M446.0 10.5l1.5-2 1.5 2 M456.5 18l2 1.5-2 1.5" stroke-width="1"/></g>
<path d="M453.5 8v10" stroke="#1a50c0" stroke-width="1.2"/>
<path d="M459 13.5h-4.5m2-2l-2 2 2 2" fill="none" stroke="#e03000" stroke-width="1.2"/>
<rect x="468" y="3" width="1" height="21" fill="#a0a0a0"/>
<path d="M478.5 6.5h7l3 3V19h-10z" fill="#fff" stroke="#8a8a8a" stroke-width="1"/>
<path d="M483.5 9.5c-1.5 0-1.5 .5-1.5 2v4 M481 12.5h2.5" fill="none" stroke="#555" stroke-width="1"/>
<path d="M486 12.5h4v3.8h3.8v3.400h-3.8v3.8h-4v-3.8h-3.5v-3.400h3.5z" fill="url(#grn)" stroke="#0a8a0a" stroke-width="0.8"/>
<polygon points="500,13 506,13 503.0,16" fill="#000"/>
<circle cx="524" cy="14" r="7.5" fill="#2a7ee0" stroke="#0e4aa8" stroke-width="1"/>
<circle cx="524" cy="14" r="5.3" fill="#eef4ff"/>
<circle cx="524" cy="14" r="4.3" fill="none" stroke="#9ab0d0" stroke-width="0.8" stroke-dasharray="0.6,1.650"/>
<path d="M524 10.5v3.5h2.5" fill="none" stroke="#333" stroke-width="1"/>
<polygon points="539,13 545,13 542.0,16" fill="#000"/>
<rect x="555.5" y="7.5" width="15" height="13" fill="#fff" stroke="#3a78c8" stroke-width="1.2"/>
<rect x="556" y="8" width="14" height="2" fill="#7ab0e8"/>
<path d="M557.5 13l3-1 3 .5 3-1.5 2.5 0" fill="none" stroke="#c03000" stroke-width="1.1"/>
<path d="M557.5 18l3-1 2 .5 3-1.5 3 1.5" fill="none" stroke="#1a9a1a" stroke-width="1.1"/>
<path d="M556 15h14" stroke="#3a78c8" stroke-width="0.8"/>
<polygon points="578,13 584,13 581.0,16" fill="#000"/>
<rect x="589" y="1" width="1" height="25" fill="#a0a0a0"/>
<rect x="593" y="4" width="3" height="1" fill="#b4b4b4"/>
<rect x="593" y="6" width="3" height="1" fill="#b4b4b4"/>
<rect x="593" y="8" width="3" height="1" fill="#b4b4b4"/>
<rect x="593" y="10" width="3" height="1" fill="#b4b4b4"/>
<rect x="593" y="12" width="3" height="1" fill="#b4b4b4"/>
<rect x="593" y="14" width="3" height="1" fill="#b4b4b4"/>
<rect x="593" y="16" width="3" height="1" fill="#b4b4b4"/>
<rect x="593" y="18" width="3" height="1" fill="#b4b4b4"/>
<rect x="593" y="20" width="3" height="1" fill="#b4b4b4"/>
<rect x="593" y="22" width="3" height="1" fill="#b4b4b4"/>
<rect x="599" y="2" width="25" height="22" fill="url(#chk)"/>
<rect x="599" y="2" width="25" height="1" fill="#a0a0a0"/>
<rect x="599" y="2" width="1" height="22" fill="#a0a0a0"/>
<rect x="599" y="23" width="25" height="1" fill="#fff"/>
<rect x="623" y="2" width="1" height="22" fill="#fff"/>
<path d="M607.5 7v12l3-2.5 2 4.5 2-1-2-4.5h4z" fill="#3a3a3a"/>
<path d="M639.5 7v15M632 14.5h15" stroke="#4a4a4a" stroke-width="1"/>
<rect x="639" y="14" width="1" height="1" fill="#f0f0f0"/>
<rect x="656" y="3" width="1" height="21" fill="#a0a0a0"/>
<path d="M673.5 8v13" stroke="#4a4a4a" stroke-width="1.2"/>
<path d="M696 14.5h12" stroke="#4a4a4a" stroke-width="1.2"/>
<path d="M724 21l12-12" stroke="#4a4a4a" stroke-width="1.2"/>
<path d="M749.5 15.5l13-8.5M751 18.5l12.5-8M752.5 21l11.5-7.5M753.5 11v9.5M757 8.5v9.5M760.5 6.5v9" stroke="#4a4a4a" stroke-width="1" fill="none"/>
<text x="760.8" y="23" font-family="Liberation Sans,sans-serif" font-size="7.5" font-weight="bold" fill="#333">E</text>
<path d="M779 7.5h13.5" stroke="#4a4a4a" stroke-width="1" stroke-dasharray="1,1" shape-rendering="crispEdges"/>
<path d="M779 10.5h13.5" stroke="#4a4a4a" stroke-width="1" stroke-dasharray="1,1" shape-rendering="crispEdges"/>
<path d="M779 14.5h13.5" stroke="#4a4a4a" stroke-width="1" stroke-dasharray="1,1" shape-rendering="crispEdges"/>
<path d="M779 18.5h13.5" stroke="#4a4a4a" stroke-width="1" stroke-dasharray="1,1" shape-rendering="crispEdges"/>
<rect x="788" y="17" width="6" height="3" fill="#f0f0f0"/>
<text x="788.8" y="23" font-family="Liberation Sans,sans-serif" font-size="7.5" font-weight="bold" fill="#333">F</text>
<text x="809" y="19" font-family="Liberation Sans,sans-serif" font-size="13" font-weight="bold" fill="#555">A</text>
<g shape-rendering="crispEdges" stroke="#555" stroke-width="1" stroke-dasharray="1,1" fill="none"><path d="M836 8.5h12M836 20.5h12M836.5 8v12M847.5 8v12"/></g>
<text x="837.8" y="19" font-family="Liberation Sans,sans-serif" font-size="11.5" font-weight="bold" fill="#555">T</text>
<path d="M866 7.5l3.5 4h-7z M873.5 20.5l-3.5-4h7z" fill="#4a4a4a"/>
<path d="M864.5 14l2.5 2.5 4-4.5 M869.5 15.5l2.5 1.5" fill="none" stroke="#4a4a4a" stroke-width="1.3"/>
<polygon points="884,13 890,13 887.0,16" fill="#000"/>
<rect x="895" y="1" width="1" height="25" fill="#a0a0a0"/>
<rect x="899" y="4" width="3" height="1" fill="#b4b4b4"/>
<rect x="899" y="6" width="3" height="1" fill="#b4b4b4"/>
<rect x="899" y="8" width="3" height="1" fill="#b4b4b4"/>
<rect x="899" y="10" width="3" height="1" fill="#b4b4b4"/>
<rect x="899" y="12" width="3" height="1" fill="#b4b4b4"/>
<rect x="899" y="14" width="3" height="1" fill="#b4b4b4"/>
<rect x="899" y="16" width="3" height="1" fill="#b4b4b4"/>
<rect x="899" y="18" width="3" height="1" fill="#b4b4b4"/>
<rect x="899" y="20" width="3" height="1" fill="#b4b4b4"/>
<rect x="899" y="22" width="3" height="1" fill="#b4b4b4"/>
<rect x="1045" y="2" width="25" height="22" fill="url(#chk)"/>
<rect x="1045" y="2" width="25" height="1" fill="#a0a0a0"/>
<rect x="1045" y="2" width="1" height="22" fill="#a0a0a0"/>
<rect x="1045" y="23" width="25" height="1" fill="#fff"/>
<rect x="1069" y="2" width="1" height="22" fill="#fff"/>
<rect x="1156" y="1" width="1" height="25" fill="#a0a0a0"/>
<circle cx="1626.5" cy="11.5" r="3.8" fill="#f0f0f0" stroke="#2a5fd0" stroke-width="1.6"/>
<path d="M1623.5 14.5l-4.5 4.5" stroke="#2a5fd0" stroke-width="2.2" stroke-linecap="round"/>
<ellipse cx="1659" cy="11.5" rx="7" ry="5" fill="#f4f4f4" stroke="#b0b0b0" stroke-width="1"/>
<path d="M1661 16l2 2.5v-3z" fill="#b0b0b0"/>
<ellipse cx="1651" cy="15.5" rx="5.5" ry="4" fill="#fafafa" stroke="#a8a8a8" stroke-width="1"/>
<path d="M1648.5 19l-1 2.5 3-2z" fill="#a8a8a8"/>
</svg>
<div class="t cn" style="left:14px">新订单</div>
<div class="t cn" style="left:166px">自动交易</div>
<div class="t tf" style="left:897.0px;width:40px;text-align:center">M1</div>
<div class="t tf" style="left:925.0px;width:40px;text-align:center">M5</div>
<div class="t tf" style="left:953.0px;width:40px;text-align:center">M15</div>
<div class="t tf" style="left:981.0px;width:40px;text-align:center">M30</div>
<div class="t tf" style="left:1009.5px;width:40px;text-align:center">H1</div>
<div class="t tf" style="left:1037.0px;width:40px;text-align:center">H4</div>
<div class="t tf" style="left:1065.5px;width:40px;text-align:center">D1</div>
<div class="t tf" style="left:1094.0px;width:40px;text-align:center">W1</div>
<div class="t tf" style="left:1121.0px;width:40px;text-align:center">MN</div>
<div class="t ax" style="top:30.3px">138.365</div>
<div class="t ax" style="top:63.3px">138.175</div>
<div class="t ax" style="top:96.3px">137.980</div>
<div class="t ax" style="top:129.4px">137.790</div>
<div class="t ax" style="top:162.4px">137.600</div>
<div class="t ax" style="top:195.4px">137.410</div>
<div class="t ax" style="top:228.4px">137.215</div>
<div class="t ax" style="top:261.4px">137.025</div>
<div class="t ax" style="top:294.5px">136.835</div>
<div class="t ax" style="top:327.5px">136.645</div>
<div class="t ax" style="top:360.5px">136.455</div>
<div class="t ax" style="top:393.5px">136.260</div>
<div class="t ax" style="top:426.5px">136.070</div>
<div class="t ax" style="top:459.6px">135.880</div>
<div class="t ax" style="top:492.6px">135.690</div>
<div class="t ax" style="top:525.6px">135.495</div>
<div class="t ax" style="top:558.6px">135.305</div>
<div class="t ax" style="top:570.8px;left:1627.8px">0.2051</div>
<div class="t ax" style="top:621.8px;left:1627.8px">0.00</div>
<div class="t ax" style="top:757.4px;left:1627.8px">-0.5195</div>
<div class="t ax" style="top:773.8px;left:1627.8px">100</div>
<div class="t ax" style="top:799.6px;left:1627.8px">80</div>
<div class="t ax" style="top:846.5px;left:1627.8px">50</div>
<div class="t ax" style="top:902.4px;left:1627.8px">15</div>
<div class="t ax" style="top:919.8px;left:1627.8px">0</div>
<div class="lb" style="top:358px;background:#ff0000"><span>136.453</span></div>
<div class="lb" style="top:388px;background:#ff4500"><span>136.279</span></div>
<div class="lb" style="top:428px;background:#32cd32"><span>136.048</span></div>
<div class="lb" style="top:465px;background:#000"><span>135.839</span></div>
<div class="lb" style="top:493px;background:#0000ff"><span>135.672</span></div>
<div class="lb" style="top:530px;background:#0000ff"><span>135.458</span></div>
<div class="t tm" style="left:-6.3px">12 Jun 2019</div>
<div class="t tm" style="left:59.0px">12 Jun 20:00</div>
<div class="t tm" style="left:123.0px">13 Jun 12:00</div>
<div class="t tm" style="left:187.0px">14 Jun 04:00</div>
<div class="t tm" style="left:251.0px">16 Jun 23:00</div>
<div class="t tm" style="left:315.0px">17 Jun 12:00</div>
<div class="t tm" style="left:379.0px">18 Jun 04:00</div>
<div class="t tm" style="left:443.0px">18 Jun 20:00</div>
<div class="t tm" style="left:507.0px">19 Jun 12:00</div>
<div class="t tm" style="left:571.0px">20 Jun 04:00</div>
<div class="t tm" style="left:635.0px">20 Jun 20:00</div>
<div class="t tm" style="left:699.0px">21 Jun 12:00</div>
<div class="t tm" style="left:763.0px">24 Jun 04:00</div>
<div class="t tm" style="left:827.0px">24 Jun 20:00</div>
<div class="t tm" style="left:891.0px">25 Jun 12:00</div>
<div class="t tm" style="left:955.0px">26 Jun 04:00</div>
<div class="t tm" style="left:1019.0px">26 Jun 20:00</div>
<div class="t tm" style="left:1083.0px">27 Jun 12:00</div>
<div class="t tm" style="left:1147.0px">28 Jun 04:00</div>
<div class="t tm" style="left:1211.0px">30 Jun 23:00</div>
<div class="t tm" style="left:1275.0px">1 Jul 12:00</div>
<div class="t tm" style="left:1339.0px">2 Jul 04:00</div>
<div class="t tm" style="left:1403.0px">2 Jul 20:00</div>
<div class="t" style="left:11px;top:35.3px;font-size:9.3px;transform-origin:0 50%;transform:scaleY(1.08);-webkit-text-stroke:0.25px #000;white-space:pre">GBPJPY-,H4  135.911 135.936 135.839 135.839</div>
<svg width="8" height="6" style="position:absolute;left:0;top:36px"><polygon points="0,5 3,1.5 6,5" fill="#000"/></svg>
<div class="t" style="left:1px;top:572.8px;font-size:9.3px;transform-origin:0 50%;transform:scaleY(1.08);-webkit-text-stroke:0.25px #000">MACD(12,26,9) -0.1297 0.0598</div>
<div class="t" style="left:1px;top:775.8px;font-size:9.3px;transform-origin:0 50%;transform:scaleY(1.08);-webkit-text-stroke:0.25px #000">RSI(14) 33.8110</div>
<div class="t" style="left:1447px;top:422px;width:72px;height:23px;border:1px solid #ff0000;background:#fff;color:#ff0000;font-size:20.2px;line-height:23px;text-align:center;letter-spacing:-0.3px"><span style="display:inline-block;transform:translateY(0.2px) scaleY(1.09);-webkit-text-stroke:0.2px #ff0000">136.048</span></div>
<div id="oc" style="position:absolute;left:0;top:48px;width:219px;height:68px;background:#fff;">
<div style="position:absolute;left:0;top:2px;width:218px;height:64px;">
 <div style="position:absolute;left:0;top:0;width:51px;height:25px;background:linear-gradient(#ff5a5a,#e23a3a);border-top:1px solid #d42020;border-right:1px solid #d01818;box-sizing:border-box"></div>
 <div style="position:absolute;left:166px;top:0;width:52px;height:25px;background:linear-gradient(#ff5a5a,#e23a3a);border-top:1px solid #d42020;border-left:1px solid #d01818;border-right:1px solid #d01818;box-sizing:border-box"></div>
 <div style="position:absolute;left:0;top:24px;width:108px;height:40px;background:linear-gradient(#e03434,#cc1a1a 45%,#b00000);border-right:1px solid #b80808;box-sizing:border-box"></div>
 <div style="position:absolute;left:110px;top:24px;width:108px;height:40px;background:linear-gradient(#e03434,#cc1a1a 45%,#b00000);border-left:1px solid #b80808;border-right:1px solid #b80808;box-sizing:border-box"></div>
 <div style="position:absolute;left:51px;top:24px;width:57px;height:1px;background:#c80c0c;"></div>
 <div style="position:absolute;left:110px;top:24px;width:56px;height:1px;background:#c80c0c;"></div>
 <div style="position:absolute;left:3px;top:22px;width:44px;height:1px;background:#b81010;"></div>
 <div style="position:absolute;left:170px;top:22px;width:44px;height:1px;background:#b81010;"></div>
 <div style="position:absolute;left:3px;top:23px;width:44px;height:1px;background:#ff7a7a;"></div>
 <div style="position:absolute;left:170px;top:23px;width:44px;height:1px;background:#ff7a7a;"></div>
 <div class="t" style="left:0;width:48px;text-align:center;top:6px;font-size:12.5px;color:#fff;transform:scaleX(0.84)">SELL</div>
 <div class="t" style="left:166px;width:52px;text-align:center;top:6px;font-size:12.5px;color:#fff;transform:scaleX(0.94)">BUY</div>
 <div style="position:absolute;left:53px;top:0;width:111px;height:22px;border:1px solid #b4b4b4;background:#fff;box-sizing:border-box;"></div>
 <div style="position:absolute;left:54px;top:1px;width:21px;height:20px;background:#e8e8e8;border-right:1px solid #b4b4b4;box-sizing:border-box;"></div>
 <div style="position:absolute;left:142px;top:1px;width:21px;height:20px;background:#e8e8e8;border-left:1px solid #b4b4b4;box-sizing:border-box;"></div>
 <svg width="6" height="4" style="position:absolute;left:61px;top:9px"><polygon points="0,0 6,0 3,3.5" fill="#000"/></svg>
 <svg width="6" height="4" style="position:absolute;left:149px;top:8px"><polygon points="0,3.5 6,3.5 3,0" fill="#000"/></svg>
 <div class="t" style="left:76px;width:63.5px;text-align:right;top:4.5px;font-size:13px;color:#000;">1.00</div>
 <div class="t" style="left:22.5px;top:44.3px;font-size:12.8px;color:#fff;font-weight:bold;letter-spacing:-0.2px;">135</div>
 <div class="t" style="left:46.5px;top:31.3px;font-size:30px;color:#fff;transform-origin:0 100%;transform:scale(1.02,1.17);">83</div>
 <div class="t" style="left:85.8px;top:29px;font-size:13.2px;color:#fff;font-weight:bold;">9</div>
 <div class="t" style="left:132.5px;top:44.3px;font-size:12.8px;color:#fff;font-weight:bold;letter-spacing:-0.2px;">135</div>
 <div class="t" style="left:157.5px;top:31.3px;font-size:30px;color:#fff;transform-origin:0 100%;transform:scale(1.02,1.17);">88</div>
 <div class="t" style="left:196.8px;top:29px;font-size:13.2px;color:#fff;font-weight:bold;">9</div>
</div></div>

</body></html>
